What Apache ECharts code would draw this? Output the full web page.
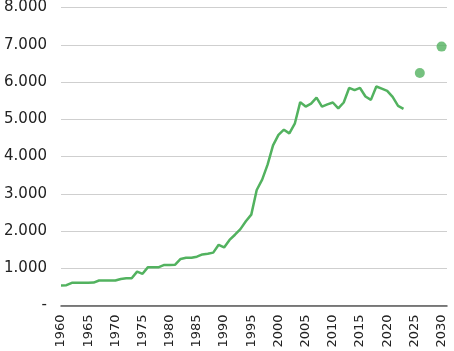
<!DOCTYPE html>
<html>
<head>
<meta charset="utf-8">
<script src="https://cdn.jsdelivr.net/npm/echarts@6/dist/echarts.min.js"></script>
<style>
html,body{margin:0;padding:0;background:#fff;}
#chart{width:454px;height:351px;}
</style>
</head>
<body>
<div id="chart"></div>
<script>
var years = [];
for (var y = 1960; y <= 2031; y++) years.push(String(y));

var histYears = [1960,1961,1962,1963,1964,1965,1966,1967,1968,1969,
  1970,1971,1972,1973,1974,1975,1976,1977,1978,1979,
  1980,1981,1982,1983,1984,1985,1986,1987,1988,1989,
  1990,1991,1992,1993,1994,1995,1996,1997,1998,1999,
  2000,2001,2002,2003,2004,2005,2006,2007,2008,2009,
  2010,2011,2012,2013,2014,2015,2016,2017,2018,2019,
  2020,2021,2022,2023];
var histValues = [540,545,610,610,610,610,615,670,670,670,
  670,710,730,730,910,850,1030,1030,1030,1090,
  1090,1095,1250,1280,1280,1310,1370,1390,1420,1630,
  1560,1760,1900,2050,2260,2440,3100,3380,3780,4300,
  4580,4720,4620,4880,5460,5340,5420,5580,5340,5400,
  5450,5290,5450,5840,5780,5840,5610,5520,5880,5820,
  5760,5600,5360,5280];

var projYears = [2026, 2030];
var projValues = [6240, 6950];

var yTicks = [0,1000,2000,3000,4000,5000,6000,7000,8000];

function fmt(v){
  if (v === 0) return '-';
  var s = String(v);
  return s.length > 3 ? s.slice(0, s.length-3) + '.' + s.slice(-3) : s;
}

var lineData = years.map(function(){ return null; });
histYears.forEach(function(yr, i){ lineData[yr-1960] = histValues[i]; });
var dotData = years.map(function(){ return null; });
projYears.forEach(function(yr, i){ dotData[yr-1960] = projValues[i]; });

var green = '#52b25f';
var chart = echarts.init(document.getElementById('chart'), null, {renderer:'canvas'});
chart.setOption({
  animation: false,
  grid: {left: 61, right: 7, top: 6, bottom: 45.5, containLabel: false},
  xAxis: {
    type: 'category',
    data: years,
    boundaryGap: false,
    axisLine: {show: true, lineStyle: {color: '#595959', width: 1.5}},
    axisTick: {show: false},
    axisLabel: {
      rotate: 90,
      margin: 9,
      interval: function(idx){ return idx % 5 === 0; },
      fontFamily: 'DejaVu Sans',
      fontSize: 13,
      color: '#222'
    },
    splitLine: {show: false}
  },
  yAxis: {
    type: 'value',
    min: yTicks[0],
    max: yTicks[yTicks.length-1],
    interval: 1000,
    axisLine: {show: false},
    axisTick: {show: false},
    axisLabel: {
      margin: 14,
      fontFamily: 'DejaVu Sans',
      fontSize: 15,
      color: '#222',
      formatter: fmt
    },
    splitLine: {show: true, lineStyle: {color: '#cfcfcf', width: 1}}
  },
  series: [
    {
      type: 'line',
      data: lineData,
      showSymbol: false,
      symbol: 'none',
      lineStyle: {color: green, width: 2.5},
      connectNulls: false
    },
    {
      type: 'scatter',
      data: dotData,
      symbolSize: 10,
      itemStyle: {color: green}
    }
  ]
});
</script>
</body>
</html>
